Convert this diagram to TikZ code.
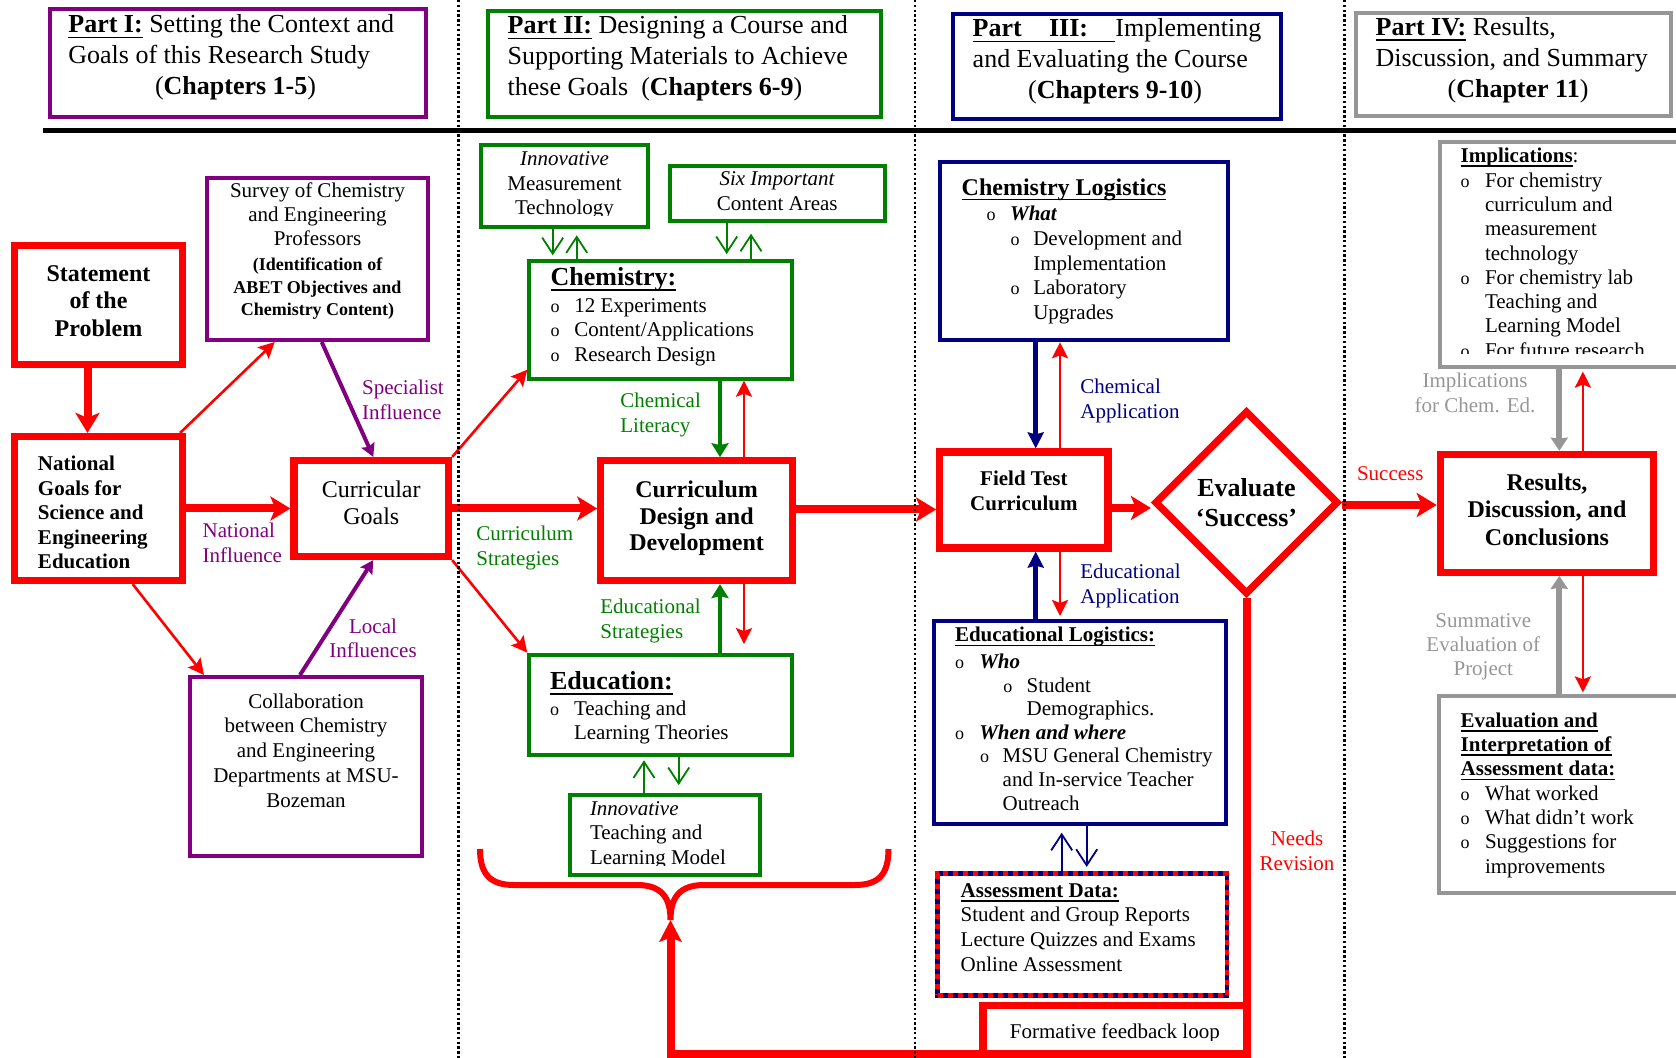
\documentclass[tikz,border=0pt]{standalone}
\usepackage{fontspec}
\setmainfont{Liberation Serif}
\usetikzlibrary{arrows.meta,shapes.geometric}

\definecolor{cred}{RGB}{255,0,0}
\definecolor{cpur}{RGB}{128,0,128}
\definecolor{cgrn}{RGB}{0,128,0}
\definecolor{cnav}{RGB}{0,0,128}
\definecolor{cgry}{RGB}{150,150,150}

% fixed-size text block: width, height, top gap, content
\newcommand\TBox[4]{\parbox[c][#2][t]{#1}{\lineskiplimit=-\maxdimen\vspace*{#3}#4}}
% free label block, reference point on the first baseline
\newcommand\LBox[2]{\parbox[t]{#1}{\lineskiplimit=-\maxdimen #2}}
\newcommand\FS[2]{\fontsize{#1}{#2}\selectfont}
\newcommand\Tst{\rule{0pt}{1em}}
\newcommand\Uline[1]{\leavevmode\setbox0=\hbox{#1}\rlap{\rule[-0.21em]{\wd0}{0.075em}}\box0\relax}
\newcommand\Bul[1]{\makebox[#1][l]{\fontsize{9}{9}\selectfont o}}
% contents of the Implications box (clipped at its lower edge)
\newcommand\ImpText{\FS{10.5}{12.15}\raggedright\leftskip=10.2pt\Tst\Uline{\textbf{Implications}}:\par\vspace{0.35pt}\Bul{12.15pt}For chemistry\\\hspace*{12.15pt}curriculum and\\\hspace*{12.15pt}measurement\\\hspace*{12.15pt}technology\\\Bul{12.15pt}For chemistry lab\\\hspace*{12.15pt}Teaching and\\\hspace*{12.15pt}Learning Model\\\Bul{12.15pt}For future research}

\begin{document}
\begin{tikzpicture}[x=0.5pt,y=-0.5pt,
  bxs/.style={draw, inner sep=0pt, line join=miter},
  rbox/.style={bxs, draw=cred, line width=3.6pt},
  pbox/.style={bxs, draw=cpur, line width=2pt},
  gbox/.style={bxs, draw=cgrn, line width=2pt},
  nbox/.style={bxs, draw=cnav, line width=2pt},
  ybox/.style={bxs, draw=cgry, line width=2pt},
  lab/.style={inner sep=0pt, anchor=base west},
  labc/.style={inner sep=0pt, anchor=base},
  arR/.style={draw=cred, line width=4pt, -{Stealth[length=10pt,width=12pt,inset=2.5pt]}},
  arr/.style={draw=cred, line width=1.3pt, -{Stealth[length=8pt,width=8pt,inset=1.5pt]}},
  arP/.style={draw=cpur, line width=2pt, -{Stealth[length=6.5pt,width=7pt,inset=1pt]}},
  arG/.style={draw=cgrn, line width=2.3pt, -{Stealth[length=7pt,width=8.5pt,inset=1pt]}},
  arN/.style={draw=cnav, line width=2.6pt, -{Stealth[length=8pt,width=8pt,inset=1pt]}},
  arY/.style={draw=cgry, line width=3pt, -{Stealth[length=6.5pt,width=8.5pt,inset=0.5pt]}},
  vG/.style={draw=cgrn, line width=0.9pt, -{Straight Barb[length=8pt,width=10.5pt]}},
  vN/.style={draw=cnav, line width=0.9pt, -{Straight Barb[length=8pt,width=10.5pt]}},
  dotl/.style={line width=1.2pt, dash pattern=on 1.2pt off 1.2pt},
  fbloop/.style={draw=cred, line width=4pt, line join=miter, -{Stealth[length=10.8pt,width=11pt,inset=2pt]}}
]
\useasboundingbox (0,0) rectangle (1676,1058);
\clip (0,0) rectangle (1676,1058);

% ---------- part headers ----------
\node[pbox] (p1) at (238,63.05) {\TBox{188pt}{53.55pt}{-1.25pt}{\FS{13}{15.5}\raggedright\leftskip=9.2pt\Tst\Uline{\textbf{Part I:}} Setting the Context and\\Goals of this Research Study\\\hspace*{43.3pt}(\textbf{Chapters 1-5})}};
\node[gbox] (p2) at (684.6,63.6) {\TBox{196.3pt}{53pt}{-1.3pt}{\FS{13}{15.5}\raggedright\leftskip=9.7pt\Tst\Uline{\textbf{Part II:}} Designing a Course and\\Supporting Materials to Achieve\\these Goals\ \ (\textbf{Chapters 6-9})}};
\node[nbox] (p3) at (1117,66.3) {\TBox{163.7pt}{52.5pt}{-1.4pt}{\FS{13}{15.5}\raggedright\leftskip=9.7pt\Tst\Uline{\textbf{Part\hspace{1.05em}III:\hspace{1.05em}}}Implementing\\and Evaluating the Course\\\hspace*{27.7pt}(\textbf{Chapters 9-10})}};
\node[ybox] (p4) at (1513.5,64.2) {\TBox{157.3pt}{51.5pt}{-1.6pt}{\FS{13}{15.5}\raggedright\leftskip=9.7pt\Tst\Uline{\textbf{Part IV:}} Results,\\Discussion, and Summary\\\hspace*{36pt}(\textbf{Chapter 11})}};

% ---------- Part I column ----------
\node[rbox] (st) at (98.5,305) {\TBox{84pt}{59.5pt}{5.9pt}{\FS{12}{13.8}\bfseries\centering\Tst Statement\\of the\\Problem}};
\node[rbox] (ng) at (98.5,508.5) {\TBox{84pt}{72pt}{6.5pt}{\FS{10.5}{12.3}\bfseries\raggedright\leftskip=11.75pt\Tst National\\Goals for\\Science and\\Engineering\\Education}};
\node[pbox] (sv) at (317.5,259) {\TBox{110.5pt}{81pt}{-0.5pt}{\FS{10.5}{12}\centering\Tst Survey of Chemistry\\and Engineering\\Professors\par\vspace{1.25pt}\FS{9}{11.25}\bfseries(Identification of\\ABET Objectives and\\Chemistry Content)}};
\node[rbox] (cg) at (371.3,508.5) {\TBox{77.3pt}{48pt}{6.75pt}{\FS{12}{13.5}\centering\Tst Curricular\\Goals}};
\node[pbox] (co) at (306,766.5) {\TBox{116pt}{89.5pt}{5pt}{\FS{10.5}{12.4}\centering\Tst Collaboration\\between Chemistry\\and Engineering\\Departments at MSU-\\Bozeman}};

% ---------- Part II column ----------
\node[gbox, minimum width=83.5pt, minimum height=41pt,
  path picture={\clip ([yshift=5.65pt]path picture bounding box.south west) rectangle (path picture bounding box.north east);
    \node[inner sep=0pt] (imtx) at (path picture bounding box.center) {\TBox{83.5pt}{41pt}{-0.35pt}{\FS{10.5}{12.25}\centering\Tst\textit{Innovative}\\Measurement\\Technology}};}] (im) at (564.5,186.3) {};
\node[gbox, minimum width=107.5pt, minimum height=27.35pt,
  path picture={\clip ([yshift=5.1pt]path picture bounding box.south west) rectangle (path picture bounding box.north east);
    \node[inner sep=0pt] (sitx) at (path picture bounding box.center) {\TBox{107.5pt}{27.35pt}{-0.5pt}{\FS{10.5}{12.25}\centering\Tst\textit{Six Important}\\Content Areas}};}] (si) at (777.2,193.35) {};
\node[gbox] (ch) at (660.65,320) {\TBox{131.35pt}{58.7pt}{-0.9pt}{\FS{13}{15}\raggedright\leftskip=10.7pt\Tst\Uline{\textbf{Chemistry:}}\par\vspace{1.33pt}\FS{10.5}{12.17}\Bul{11.8pt}12 Experiments\\\Bul{11.8pt}Content/Applications\\\Bul{11.8pt}Research Design}};
\node[rbox] (cd) at (696.65,520.65) {\TBox{95.85pt}{59.85pt}{6.45pt}{\FS{12}{13.3}\bfseries\centering\Tst Curriculum\\Design and\\Development}};
\node[gbox] (ed) at (660.65,705) {\TBox{131.35pt}{50.3pt}{4.6pt}{\FS{13}{15}\raggedright\leftskip=10.35pt\Tst\Uline{\textbf{Education:}}\par\vspace{0.85pt}\FS{10.5}{12}\Bul{12pt}Teaching and\\\hspace*{12pt}Learning Theories}};
\node[gbox, minimum width=95.15pt, minimum height=40.3pt,
  path picture={\clip ([yshift=4.9pt]path picture bounding box.south west) rectangle (path picture bounding box.north east);
    \node[inner sep=0pt] (ittx) at (path picture bounding box.center) {\TBox{95.15pt}{40.3pt}{-0.05pt}{\FS{10.5}{12.1}\raggedright\leftskip=10.15pt\Tst\textit{Innovative}\\Teaching and\\Learning Model}};}] (it) at (664.85,835) {};

% ---------- Part III column ----------
\node[nbox] (cl) at (1084.15,251.15) {\TBox{143.85pt}{89.15pt}{4.65pt}{\FS{12}{13.5}\raggedright\leftskip=10.7pt\Tst\Uline{\textbf{Chemistry Logistics}}\par\vspace{0.2pt}\FS{10.5}{12.4}\hspace*{12.5pt}\Bul{11.7pt}\textbf{\textit{What}}\\\hspace*{24.5pt}\Bul{11.3pt}Development and\\\hspace*{35.8pt}Implementation\\\hspace*{24.5pt}\Bul{11.3pt}Laboratory\\\hspace*{35.8pt}Upgrades}};
\node[rbox] (ft) at (1023.85,500) {\TBox{84.15pt}{48pt}{6.3pt}{\FS{10.5}{12.5}\bfseries\centering\Tst Field Test\\Curriculum}};
\node[diamond, draw=cred, line width=3.6pt, line join=miter, minimum width=92pt, minimum height=92pt, inner sep=0pt, aspect=1, align=center, font={\FS{13}{15}\bfseries}] (dia) at (1246.5,502.5) {Evaluate\\‘Success’};
\node[nbox] (el) at (1080,722.35) {\TBox{146.3pt}{101.35pt}{0pt}{\FS{10.5}{11.8}\raggedright\leftskip=10.65pt\Tst\Uline{\textbf{Educational Logistics:}}\par\vspace{1.5pt}\Bul{12.15pt}\textbf{\textit{Who}}\\\hspace*{24.15pt}\Bul{11.7pt}Student\\\hspace*{35.85pt}Demographics.\\\Bul{12.15pt}\textbf{\textit{When and where}}\\\hspace*{12.5pt}\Bul{11.35pt}MSU General Chemistry\\\hspace*{23.85pt}and In-service Teacher\\\hspace*{23.85pt}Outreach}};
\node[nbox, line width=2.4pt, postaction={draw=cred, dash pattern=on 2.5pt off 2.5pt}] (as) at (1082.35,934.5) {\TBox{144.65pt}{60.8pt}{1.3pt}{\FS{10.5}{12.3}\raggedright\leftskip=11.5pt\Tst\Uline{\textbf{Assessment Data:}}\\Student and Group Reports\\Lecture Quizzes and Exams\\Online Assessment}};
\node[rbox, minimum width=131.85pt, minimum height=24pt,
  path picture={\clip ([yshift=6.75pt]path picture bounding box.south west) rectangle (path picture bounding box.north east);
    \node[inner sep=0pt] (fbtx) at (path picture bounding box.center) {\TBox{131.85pt}{24pt}{6.2pt}{\FS{10.5}{12}\centering\Tst Formative feedback loop}};}] (fb) at (1114.85,1029.5) {};

% ---------- Part IV column ----------
\node[ybox, minimum width=129.85pt, minimum height=112.5pt,
  path picture={\clip ([yshift=6.75pt]path picture bounding box.south west) rectangle (path picture bounding box.north east);
    \node[inner sep=0pt] (imptx) at (path picture bounding box.center) {\TBox{129.85pt}{112.5pt}{-0.4pt}{\ImpText}};}] (imp) at (1570.15,254.5) {};
\node[rbox] (rs) at (1547,513.3) {\TBox{106.7pt}{59pt}{5.9pt}{\FS{12}{13.75}\bfseries\centering\Tst Results,\\Discussion, and\\Conclusions}};
\node[ybox] (ev) at (1569.65,794.5) {\TBox{130.35pt}{98.5pt}{5.1pt}{\FS{10.5}{12.15}\raggedright\leftskip=10.7pt\Tst\Uline{\textbf{Evaluation and}}\\\Uline{\textbf{Interpretation of}}\\\Uline{\textbf{Assessment data:}}\\\Bul{12.15pt}What worked\\\Bul{12.15pt}What didn’t work\\\Bul{12.15pt}Suggestions for\\\hspace*{12.15pt}improvements}};

% ---------- connector labels ----------
\node[lab, text=cpur] (lspec) at (361.7,395) {\LBox{70pt}{\FS{10.5}{12.5}\raggedright Specialist\\Influence}};
\node[lab, text=cpur] (lnat) at (202.3,538) {\LBox{70pt}{\FS{10.5}{12.5}\raggedright National\\Influence}};
\node[labc, text=cpur] (lloc) at (373,633) {\LBox{70pt}{\FS{10.5}{12.5}\centering Local\\Influences}};
\node[lab, text=cgrn] (lcs) at (476,540.6) {\LBox{70pt}{\FS{10.5}{12.5}\raggedright Curriculum\\Strategies}};
\node[lab, text=cgrn] (lcl) at (620,407.2) {\LBox{70pt}{\FS{10.5}{12.5}\raggedright Chemical\\Literacy}};
\node[lab, text=cgrn] (les) at (600,613.9) {\LBox{70pt}{\FS{10.5}{12.5}\raggedright Educational\\Strategies}};
\node[lab, text=cnav] (lca) at (1080,393.9) {\LBox{70pt}{\FS{10.5}{12.5}\raggedright Chemical\\Application}};
\node[lab, text=cnav] (lea) at (1080,578.9) {\LBox{70pt}{\FS{10.5}{12.5}\raggedright Educational\\Application}};
\node[labc, text=cred] (lnr) at (1297,845.6) {\LBox{70pt}{\FS{10.5}{12.5}\centering Needs\\Revision}};
\node[labc, text=cred] (lsu) at (1390.3,480.6) {\FS{10.5}{12.5}Success};
\node[labc, text=cgry] (lie) at (1475,387.2) {\LBox{80pt}{\FS{10.5}{12.5}\centering Implications\\for Chem. Ed.}};
\node[labc, text=cgry] (lse) at (1483.3,627.2) {\LBox{80pt}{\FS{10.5}{12.1}\centering Summative\\Evaluation of\\Project}};

% ---------- lanes for parallel connectors ----------
\coordinate (xS) at (87.5,0);
\coordinate (xA) at (720,0);
\coordinate (xB) at (744,0);
\coordinate (xC) at (552.7,0);
\coordinate (xD) at (576.7,0);
\coordinate (xE) at (726.7,0);
\coordinate (xF) at (751,0);
\coordinate (xG) at (644,0);
\coordinate (xH) at (678.7,0);
\coordinate (xI) at (1035.7,0);
\coordinate (xJ) at (1060,0);
\coordinate (xK) at (1061.7,0);
\coordinate (xL) at (1086.7,0);
\coordinate (xM) at (1559.3,0);
\coordinate (xN) at (1582.9,0);
\coordinate (yA) at (0,509.5);
\coordinate (yB) at (0,508);
\coordinate (yC) at (0,505);
\coordinate (yD) at (0,1053.5);
\coordinate (cusp) at (670.5,920);

% ---------- connectors ----------
\draw[arR] (st.south -| xS) -- (ng.north -| xS);
\draw[arr] ([xshift=-3pt]ng.north east) -- ([xshift=34.85pt]sv.south west);
\draw[arR] (ng.east) -- (cg.west);
\draw[arr] ([xshift=17.1pt]ng.south) -- ([xshift=8pt]co.north west);
\draw[arP] ([xshift=2.1pt]sv.south) -- ([xshift=1pt]cg.north);
\draw[arP] ([xshift=-3pt]co.north) -- ([xshift=1pt]cg.south);

\draw[arr] (cg.north east) -- ([yshift=5.5pt]ch.south west);
\draw[arR] (cg.east) -- (cg.east -| cd.west);
\draw[arr] (cg.south east) -- (ed.north west);
\draw[vG, shorten >=2pt] (im.south -| xC) -- (ch.north -| xC);
\draw[vG, shorten >=3pt] (ch.north -| xD) -- (im.south -| xD);
\draw[vG, shorten >=2.6pt] (si.south -| xE) -- (ch.north -| xE);
\draw[vG, shorten >=5.5pt] (ch.north -| xF) -- (si.south -| xF);
\draw[arG] (ch.south -| xA) -- (cd.north -| xA);
\draw[arr] (cd.north -| xB) -- (ch.south -| xB);
\draw[arG] (ed.north -| xA) -- (cd.south -| xA);
\draw[arr, shorten >=4.3pt] (cd.south -| xB) -- (ed.north -| xB);
\draw[vG, shorten >=1.5pt] (it.north -| xG) -- (ed.south -| xG);
\draw[vG, shorten >=3.8pt] (ed.south -| xH) -- (it.north -| xH);

\draw[arR] (cd.east |- yA) -- (ft.west |- yA);
\draw[arN] (cl.south -| xI) -- (ft.north -| xI);
\draw[arr] (ft.north -| xJ) -- (cl.south -| xJ);
\draw[arN] (el.north -| xI) -- (ft.south -| xI);
\draw[arr, shorten >=1.5pt] (ft.south -| xJ) -- (el.north -| xJ);
\draw[vN, shorten >=3.5pt] (as.north -| xK) -- (el.south -| xK);
\draw[vN, shorten >=2.2pt] (el.south -| xL) -- (as.north -| xL);
\draw[arR] (ft.east |- yB) -- (dia.west |- yB);
\draw[arR] (dia.east |- yC) -- (rs.west |- yC);

\draw[arY] (imp.south -| xM) -- (rs.north -| xM);
\draw[arr, shorten >=1.3pt] (rs.north -| xN) -- (imp.south -| xN);
\draw[arY] (ev.north -| xM) -- (rs.south -| xM);
\draw[arr, shorten >=0.8pt] (rs.south -| xN) -- (ev.north -| xN);

% revision loop back to the design stage
\draw[fbloop] (dia.south) -- (dia.south |- yD) -| (cusp);
\draw[cred, line width=3pt] (480,849) .. controls (480,874) and (490,885) .. (514,885) -- (637,885)
  .. controls (661,885) and (670.5,897) .. (cusp)
  .. controls (670.5,897) and (680,885) .. (704,885) -- (855,885)
  .. controls (879,885) and (888.5,874) .. (888.5,849);

% ---------- page rules ----------
\draw[line width=2.5pt] (43,130.5) -- (1676,130.5);
\draw[dotl] (458.5,0) -- (458.5,1058);
\draw[dotl] (915,0) -- (915,1058);
\draw[dotl] (1344.5,0) -- (1344.5,1058);
\end{tikzpicture}
\end{document}
